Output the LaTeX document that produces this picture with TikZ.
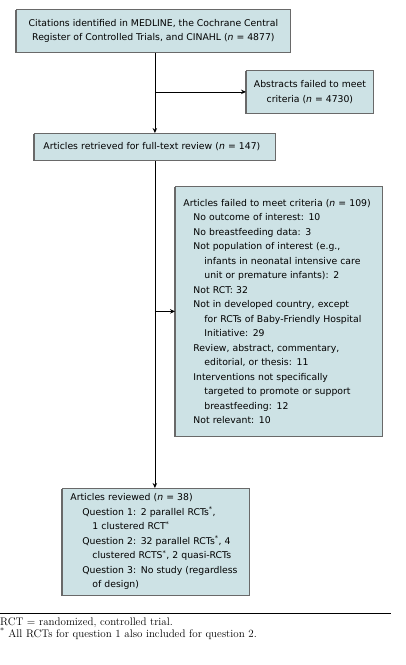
\documentclass[tikz,border=0pt]{standalone}
\usepackage{fontspec}
\setsansfont{DejaVu Sans}
\usetikzlibrary{arrows.meta,calc,positioning,shadows}

\definecolor{boxfill}{RGB}{205,226,229}
\definecolor{boxline}{RGB}{105,105,105}

\begin{document}
\begin{tikzpicture}[x=1pt, y=-1pt, >={Stealth[length=5pt,width=4.5pt]}]
    \tikzset{
        flowbox/.style={draw=boxline, fill=boxfill, line width=0.8pt, anchor=north west,
            font=\sffamily\fontsize{9.3}{14.5}\selectfont, inner sep=0pt,
            drop shadow={shadow xshift=-1pt, shadow yshift=-1pt, opacity=1, fill=boxline}},
        link/.style={->, line width=0.8pt},
        note/.style={anchor=base west, inner sep=0pt, font=\fontsize{11}{9}\selectfont},
    }
    \useasboundingbox (0,0) rectangle (405,665);

    \node[flowbox, minimum width=274pt, minimum height=43pt, align=center] (cite) at (16,9)
        {Citations identified in MEDLINE, the Cochrane Central\\
         Register of Controlled Trials, and CINAHL (\textit{n} = 4877)};
    \node[flowbox, minimum width=127pt, minimum height=43pt, align=center] (abst) at (246,70)
        {Abstracts failed to meet\\ criteria (\textit{n} = 4730)};
    \node[flowbox, minimum height=27pt, inner xsep=9pt, text width=223pt, align=left] (retr) at (34,133)
        {Articles retrieved for full-text review (\textit{n} = 147)};
    \node[flowbox, minimum height=250pt, inner xsep=8pt, text width=191pt, align=left] (fail) at (175,186)
        {Articles failed to meet criteria (\textit{n} = 109)\\
         \hspace*{10pt}No outcome of interest: 10\\
         \hspace*{10pt}No breastfeeding data: 3\\
         \hspace*{10pt}Not population of interest (e.g.,\\
         \hspace*{21pt}infants in neonatal intensive care\\
         \hspace*{21pt}unit or premature infants): 2\\
         \hspace*{10pt}Not RCT: 32\\
         \hspace*{10pt}Not in developed country, except\\
         \hspace*{21pt}for RCTs of Baby-Friendly Hospital\\
         \hspace*{21pt}Initiative: 29\\
         \hspace*{10pt}Review, abstract, commentary,\\
         \hspace*{21pt}editorial, or thesis: 11\\
         \hspace*{10pt}Interventions not specifically\\
         \hspace*{21pt}targeted to promote or support\\
         \hspace*{21pt}breastfeeding: 12\\
         \hspace*{10pt}Not relevant: 10\\[6pt]};
    \node[flowbox, minimum height=107pt, inner xsep=8pt, text width=171pt, align=left] (revw) at (62,488)
        {Articles reviewed (\textit{n} = 38)\\
         \hspace*{12pt}Question 1: 2 parallel RCTs\textsuperscript{*},\\
         \hspace*{22pt}1 clustered RCT\textsuperscript{*}\\
         \hspace*{12pt}Question 2: 32 parallel RCTs\textsuperscript{*}, 4\\
         \hspace*{22pt}clustered RCTS\textsuperscript{*}, 2 quasi-RCTs\\
         \hspace*{12pt}Question 3: No study (regardless\\
         \hspace*{22pt}of design)};

    % trunk and branches
    \draw[link] (retr.north |- cite.south) -- (retr.north);
    \coordinate (b1) at (retr.north |- abst.west);
    \draw[link] (b1) -- (abst.west);
    \draw[link] (retr.south) -- (retr.south |- revw.north);
    \coordinate (b2) at (retr.south |- fail.west);
    \draw[link] (b2) -- (fail.west);

    % footnotes
    \draw[line width=0.6pt] (0,613) -- (391,613);
    \node[note] (n1) at (0,625) {RCT $=$ randomized, controlled trial.};
    \node[note] (n2) at (0,637) {\textsuperscript{*}\ All RCTs for question 1 also included for question 2.};
\end{tikzpicture}
\end{document}
